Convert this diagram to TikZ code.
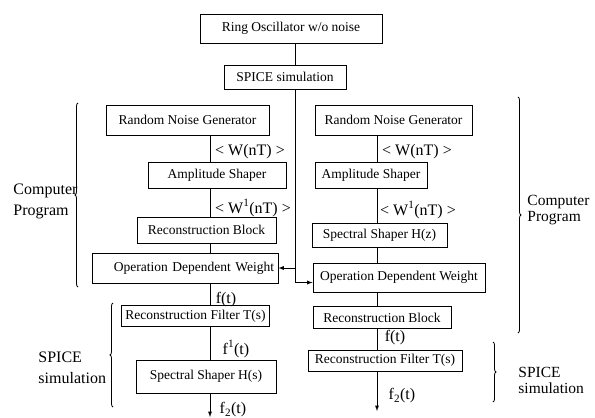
\documentclass[tikz,border=0pt]{standalone}
\usepackage{fontspec}
\setmainfont{Liberation Serif}
\usepackage{tikz}
\usetikzlibrary{arrows}
\usetikzlibrary{calc}
\usetikzlibrary{decorations.pathreplacing}

\tikzset{
	block/.style={draw, line width=0.9pt, inner sep=4pt, font=\fontsize{13.5}{15}\selectfont},
	sig/.style={inner sep=1pt, font=\fontsize{16}{18}\selectfont},
	side/.style={inner sep=0pt, align=left, anchor=west, font=\fontsize{16}{21}\selectfont},
	sidenarrow/.style={side, font=\fontsize{15.5}{15.5}\selectfont},
	curly/.style={decorate, decoration={brace, amplitude=3pt}, line width=0.8pt}
}

\begin{document}
\begin{tikzpicture}[x=1pt, y=-1pt, line width=0.9pt]
	\useasboundingbox (0,0) rectangle (595,418);
	
	\coordinate (trunk) at (295,0);
	\coordinate (colL) at (210,0);
	\coordinate (colR) at (377,0);
	\coordinate (outL) at (210,417);
	\coordinate (outR) at (377,411);
	
	\node[block, minimum width=182pt, minimum height=29pt] (ring) at (291,28.5) {Ring Oscillator w/o noise};
	\node[block, minimum width=122pt, minimum height=24pt] (spice) at (285,77) {SPICE simulation};
	
	\node[block, minimum width=163pt, minimum height=30pt] (rng1) at (187.5,120) {Random Noise Generator};
	\node[block, minimum width=138pt, minimum height=26pt] (amp1) at (217,175) {Amplitude Shaper};
	\node[block, minimum width=139pt, minimum height=26pt] (rec1) at (206.5,230) {Reconstruction Block};
	\node[block, text width=178pt, align=right, minimum height=30pt] (odw1) at (185,268) {Operation Dependent Weight};
	\node[block, minimum width=147pt, minimum height=21pt] (filt1) at (195.5,316) {Reconstruction Filter T(s)};
	\node[block, minimum width=140pt, minimum height=33pt] (spec1) at (206,376.5) {Spectral Shaper H(s)};
	
	\node[block, minimum width=157pt, minimum height=30pt] (rng2) at (393.5,120) {Random Noise Generator};
	\node[block, minimum width=112pt, minimum height=26pt] (amp2) at (371,175) {Amplitude Shaper};
	\node[block, minimum width=135pt, minimum height=24pt] (spec2) at (379.5,235) {Spectral Shaper H(z)};
	\node[block, minimum width=172pt, minimum height=29pt] (odw2) at (399,277.5) {Operation Dependent Weight};
	\node[block, minimum width=138pt, minimum height=22pt] (rec2) at (382,317.5) {Reconstruction Block};
	\node[block, minimum width=154pt, minimum height=21pt] (filt2) at (385,360.5) {Reconstruction Filter T(s)};
	
	\draw (ring.south -| trunk) -- (spice.north -| trunk);
	\draw[-latex] (spice.south -| trunk) |- ([yshift=-5pt]odw2.west);
	\draw[-latex] (trunk |- odw1.east) -- (odw1.east);
	
	\draw (rng1.south -| colL) -- (amp1.north -| colL);
	\draw (amp1.south -| colL) -- (rec1.north -| colL);
	\draw (rec1.south -| colL) -- (odw1.north -| colL);
	\draw (odw1.south -| colL) -- (filt1.north -| colL);
	\draw (filt1.south -| colL) -- (spec1.north -| colL);
	\draw[-latex] (spec1.south -| colL) -- (outL);
	
	\draw (rng2.south -| colR) -- (amp2.north -| colR);
	\draw (amp2.south -| colR) -- (spec2.north -| colR);
	\draw (spec2.south -| colR) -- (odw2.north -| colR);
	\draw (odw2.south -| colR) -- (rec2.north -| colR);
	\draw (rec2.south -| colR) -- (filt2.north -| colR);
	\draw[-latex] (filt2.south -| colR) -- (outR);
	
	\node[sig] (wL) at (250,152) {< W(nT) >};
	\node[sig] (wpL) at (253,208) {< W\textsuperscript{1}(nT) >};
	\node[sig] (fL) at (226,300) {f(t)};
	\node[sig] (f1L) at (236,349) {f\textsuperscript{1}(t)};
	\node[sig] (f2L) at (233,410) {f\textsubscript{2}(t)};
	
	\node[sig] (wR) at (417,152) {< W(nT) >};
	\node[sig] (wpR) at (418,210) {< W\textsuperscript{1}(nT) >};
	\node[sig] (fR) at (395,338) {f(t)};
	\node[sig] (f2R) at (402,396) {f\textsubscript{2}(t)};
	
	\draw[curly] (78,287) -- (78,103);
	\draw[curly] (113,407) -- (113,303);
	\draw[curly] (518,97) -- (518,333);
	\draw[curly] (493,342) -- (493,402);
	
	\node[side] (cpL) at (13,201) {Computer\\Program};
	\node[side] (spL) at (38,368) {SPICE\\simulation};
	\node[sidenarrow] (cpR) at (527,210) {Computer\\Program};
	\node[sidenarrow] (spR) at (518,380.5) {SPICE\\simulation};
\end{tikzpicture}
\end{document}
